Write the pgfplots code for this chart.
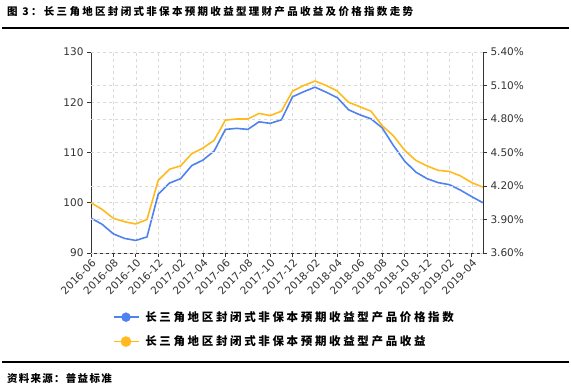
\documentclass[border=0pt]{standalone}
\usepackage{pgfplots}
\pgfplotsset{compat=1.18}
\usepackage{fontspec}
\setmainfont{DejaVu Sans}
\newfontfamily\cjkt[LetterSpace=22]{Noto Sans CJK SC}
\newfontfamily\cjkl[LetterSpace=23]{Noto Sans CJK SC}
\newfontfamily\cjks[LetterSpace=12]{Noto Sans CJK SC}
\definecolor{myblue}{RGB}{78,130,240}
\definecolor{myorange}{RGB}{255,187,30}
\definecolor{axgray}{RGB}{51,51,51}
\definecolor{gridgray}{RGB}{217,217,217}
\pgfplotstableread{
x idx yld
0 96.95 4.05
1 95.7 3.99
2 93.8 3.91
3 92.9 3.88
4 92.5 3.86
5 93.2 3.90
6 101.7 4.25
7 103.9 4.35
8 104.8 4.38
9 107.4 4.49
10 108.5 4.54
11 110.3 4.61
12 114.6 4.79
13 114.8 4.80
14 114.6 4.80
15 116.1 4.85
16 115.8 4.83
17 116.5 4.87
18 121.1 5.05
19 122.1 5.10
20 123.0 5.14
21 122.0 5.10
22 120.9 5.05
23 118.5 4.95
24 117.5 4.91
25 116.7 4.87
26 114.9 4.74
27 111.4 4.65
28 108.3 4.52
29 106.1 4.43
30 104.8 4.38
31 104.0 4.34
32 103.6 4.33
33 102.5 4.29
34 101.2 4.23
35 100.0 4.19
}\datatable
\begin{document}
\begin{tikzpicture}
\path[use as bounding box] (0,0) rectangle (571bp,390bp);
\node[anchor=west, inner sep=0pt, font=\fontsize{10.5bp}{12bp}\cjkt\bfseries] at (7bp,378bp) {图 3：长三角地区封闭式非保本预期收益型理财产品收益及价格指数走势};
\draw[line width=1.2bp] (2bp,362bp) -- (569bp,362bp);
\draw[line width=1.2bp] (2bp,28bp) -- (569bp,28bp);
\node[anchor=west, inner sep=0pt, font=\fontsize{10.5bp}{12bp}\cjks\bfseries] at (7bp,12bp) {资料来源：普益标准};
\pgfplotsset{
  every axis/.append style={
    scale only axis, width=392bp, height=201bp,
    at={(91bp,137bp)}, anchor=south west,
    xmin=0, xmax=35,
    axis line style={axgray, line width=0.8bp},
    major tick style={axgray, line width=0.8bp},
    tick align=outside, major tick length=4bp,
    grid style={gridgray, dashed, line width=0.6bp},
    tick label style={font=\fontsize{10.5bp}{12bp}\selectfont, text=axgray},
    /pgf/number format/assume math mode=true,
  }
}
\begin{axis}[
  axis y line*=left, axis x line*=bottom,
  ymin=90, ymax=130, ytick={90,100,110,120,130},
  xtick={0,2,...,34},
  xticklabels={2016-06,2016-08,2016-10,2016-12,2017-02,2017-04,2017-06,2017-08,2017-10,2017-12,2018-02,2018-04,2018-06,2018-08,2018-10,2018-12,2019-02,2019-04},
  xticklabel style={rotate=45, anchor=north east, inner sep=1bp},
  xmajorgrids, ymajorgrids,
]
\addplot[color=myblue, line width=1.6bp, mark=none] table[x=x, y=idx] {\datatable};
\end{axis}
\begin{axis}[
  axis y line*=right, axis x line=none,
  ymin=3.6, ymax=5.4, ytick={3.6,3.9,4.2,4.5,4.8,5.1,5.4},
  yticklabel={\pgfmathprintnumber[fixed, fixed zerofill, precision=2]{\tick}\%},
  ymajorgrids,
  legend style={at={(rel axis cs:0.055,-0.285)}, anchor=north west, draw=none, fill=none,
    font=\fontsize{11.5bp}{13bp}\cjkl\bfseries, row sep=11bp, inner sep=0pt,
    nodes={inner sep=1bp}},
  legend cell align=left,
  legend image code/.code={
    \draw[#1, line width=1.5bp] (0bp,0bp) -- (25bp,0bp);
    \fill[#1] (12.5bp,0bp) circle (4.5bp);
    \path (30bp,0bp);
  },
]
\addlegendimage{color=myblue}
\addlegendentry{长三角地区封闭式非保本预期收益型产品价格指数}
\addplot[color=myorange, line width=1.6bp, mark=none] table[x=x, y=yld] {\datatable};
\addlegendentry{长三角地区封闭式非保本预期收益型产品收益}
\end{axis}
\end{tikzpicture}
\end{document}
